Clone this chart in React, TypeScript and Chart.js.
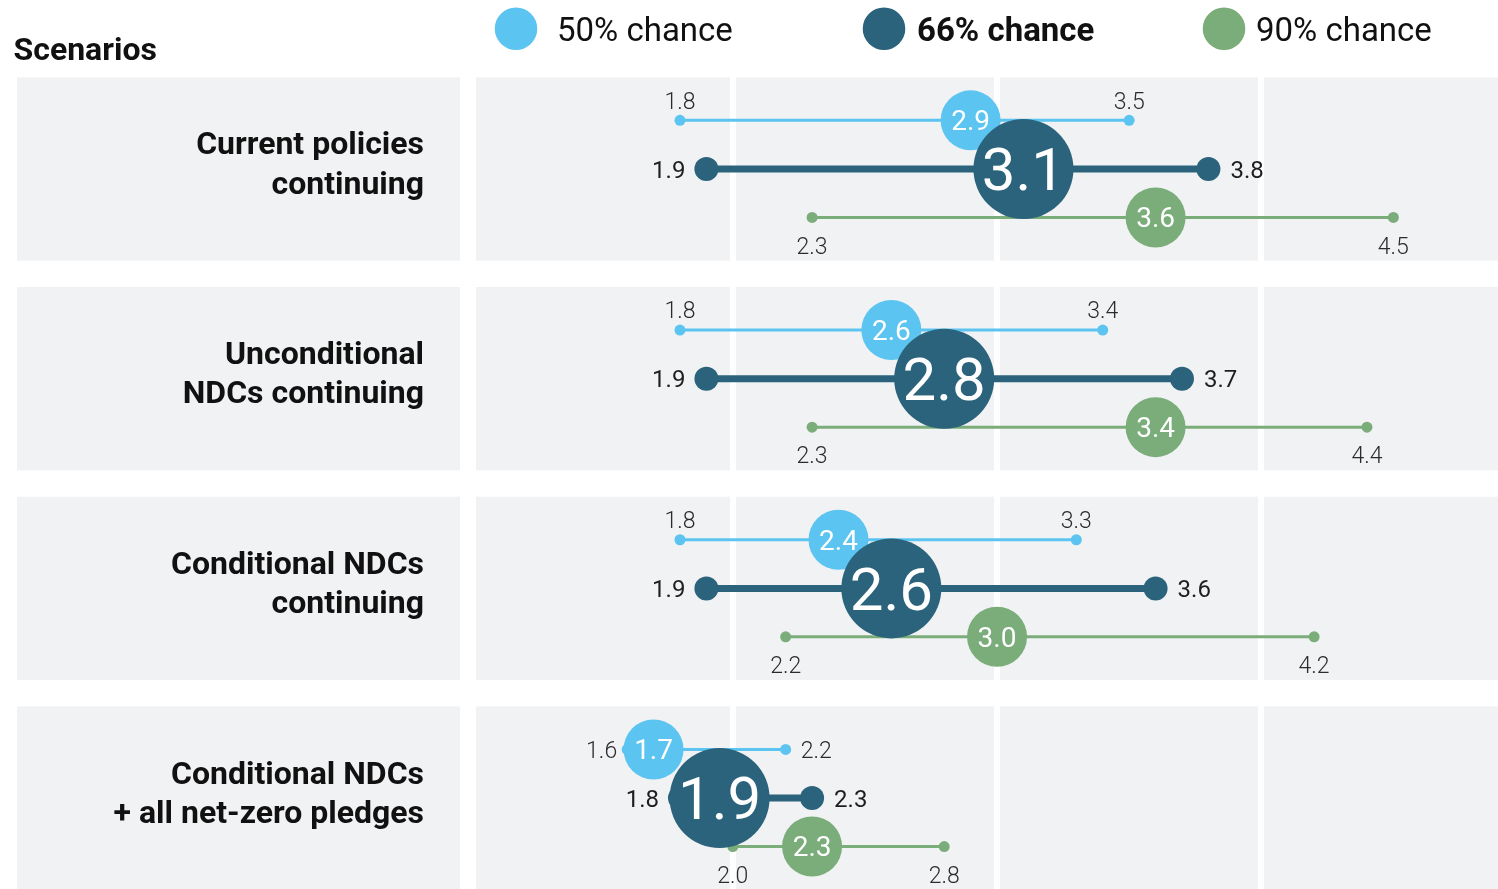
import React, { useEffect, useRef } from "react";
import { Chart, registerables } from "chart.js";

Chart.register(...registerables);

// ---------- data ----------
const scenarios: string[][] = [
  ["Current policies", "continuing"],
  ["Unconditional", "NDCs continuing"],
  ["Conditional NDCs", "continuing"],
  ["Conditional NDCs", "+ all net-zero pledges"],
];
const seriesNames = ["50% chance", "66% chance", "90% chance"];

const low50 = [1.8, 1.8, 1.8, 1.6];
const mid50 = [2.9, 2.6, 2.4, 1.7];
const high50 = [3.5, 3.4, 3.3, 2.2];
const mid50Labels = ["2.9", "2.6", "2.4", "1.7"];

const low66 = [1.9, 1.9, 1.9, 1.8];
const mid66 = [3.1, 2.8, 2.6, 1.95];
const high66 = [3.8, 3.7, 3.6, 2.3];
const mid66Labels = ["3.1", "2.8", "2.6", "1.9"];

const low90 = [2.3, 2.3, 2.2, 2.0];
const mid90 = [3.6, 3.6, 3.0, 2.3];
const high90 = [4.5, 4.4, 4.2, 2.8];
const mid90Labels = ["3.6", "3.4", "3.0", "2.3"];

const gridValues = [2, 3, 4];

// ---------- styles ----------
const COLORS = ["#5CC4F0", "#2A637B", "#7BAD7A"];
const PANEL = "#F1F2F4";
const BAND_HALF = 0.4373;
const FONT = "Roboto";

type Series = {
  low: number[];
  mid: number[];
  high: number[];
  midLabels: string[];
  color: string;
  offset: number;
  lineWidth: number;
  endRadius: number;
  bubbleRadius: number;
  bubbleOrder: number;
  midSize: number;
  midWeight: string;
  endSize: number;
  endWeight: string;
  endColor: string;
  placements: string[];
  sideLeft: number;
  sideRight: number;
};

const SERIES: Series[] = [
  {
    low: low50, mid: mid50, high: high50, midLabels: mid50Labels,
    color: COLORS[0], offset: -0.232, lineWidth: 3, endRadius: 5.5,
    bubbleRadius: 30, bubbleOrder: 2, midSize: 28, midWeight: "400",
    endSize: 23, endWeight: "300", endColor: "#2b2b2b",
    placements: ["above", "above", "above", "side"], sideLeft: 10, sideRight: 15,
  },
  {
    low: low66, mid: mid66, high: high66, midLabels: mid66Labels,
    color: COLORS[1], offset: 0, lineWidth: 7, endRadius: 12,
    bubbleRadius: 50, bubbleOrder: 0, midSize: 60, midWeight: "400",
    endSize: 24, endWeight: "400", endColor: "#1e1e1e",
    placements: ["side", "side", "side", "side"], sideLeft: 21, sideRight: 22,
  },
  {
    low: low90, mid: mid90, high: high90, midLabels: mid90Labels,
    color: COLORS[2], offset: 0.231, lineWidth: 3, endRadius: 5.5,
    bubbleRadius: 30, bubbleOrder: 1, midSize: 28, midWeight: "400",
    endSize: 23, endWeight: "300", endColor: "#2b2b2b",
    placements: ["below", "below", "below", "below"], sideLeft: 10, sideRight: 15,
  },
];

// ---------- plugins ----------
const panelsPlugin = {
  id: "panels",
  beforeDraw(chart: any) {
    const { ctx, chartArea, scales } = chart;
    const y = scales.y;
    ctx.save();
    ctx.fillStyle = PANEL;
    scenarios.forEach((_, r) => {
      const a = y.getPixelForValue(r - BAND_HALF);
      const b = y.getPixelForValue(r + BAND_HALF);
      const top = Math.min(a, b);
      const h = Math.abs(b - a);
      ctx.fillRect(17, top, 443, h);
      ctx.fillRect(chartArea.left, top, chartArea.right - chartArea.left, h);
    });
    ctx.restore();
  },
};

function drawCentered(ctx: CanvasRenderingContext2D, text: string, x: number, yc: number, size: number, align: CanvasTextAlign) {
  ctx.textAlign = align;
  ctx.textBaseline = "alphabetic";
  ctx.fillText(text, x, yc + 0.355 * size);
}

const labelsPlugin = {
  id: "rangeLabels",
  afterDatasetsDraw(chart: any) {
    const { ctx, scales } = chart;
    const xs = scales.x;
    const ys = scales.y;
    ctx.save();
    SERIES.forEach((s) => {
      ctx.font = `${s.endWeight} ${s.endSize}px ${FONT}`;
      ctx.fillStyle = s.endColor;
      s.low.forEach((lo, r) => {
        const y = ys.getPixelForValue(r + s.offset);
        const xl = xs.getPixelForValue(lo);
        const xh = xs.getPixelForValue(s.high[r]);
        const loT = lo.toFixed(1);
        const hiT = s.high[r].toFixed(1);
        const p = s.placements[r];
        if (p === "above") {
          drawCentered(ctx, loT, xl, y - 20, s.endSize, "center");
          drawCentered(ctx, hiT, xh, y - 20, s.endSize, "center");
        } else if (p === "below") {
          drawCentered(ctx, loT, xl, y + 28, s.endSize, "center");
          drawCentered(ctx, hiT, xh, y + 28, s.endSize, "center");
        } else {
          drawCentered(ctx, loT, xl - s.sideLeft, y, s.endSize, "right");
          drawCentered(ctx, hiT, xh + s.sideRight, y, s.endSize, "left");
        }
      });
    });
    ctx.fillStyle = "#ffffff";
    SERIES.forEach((s) => {
      ctx.font = `${s.midWeight} ${s.midSize}px ${FONT}`;
      s.mid.forEach((m, r) => {
        const x = xs.getPixelForValue(m);
        const y = ys.getPixelForValue(r + s.offset);
        drawCentered(ctx, s.midLabels[r], x, y, s.midSize, "center");
      });
    });
    ctx.restore();
  },
};

const LEGEND_CIRCLE_X = [516, 884, 1224];
const LEGEND_TEXT_X = [557, 917, 1256];
const LEGEND_WEIGHT = ["400", "700", "400"];

const headerPlugin = {
  id: "header",
  afterDraw(chart: any) {
    const { ctx } = chart;
    ctx.save();
    ctx.fillStyle = "#111111";
    ctx.textBaseline = "alphabetic";
    ctx.textAlign = "left";
    ctx.font = `700 32px ${FONT}`;
    ctx.fillText("Scenarios", 13.5, 60);
    seriesNames.forEach((name, i) => {
      ctx.fillStyle = COLORS[i];
      ctx.beginPath();
      ctx.arc(LEGEND_CIRCLE_X[i], 28.7, 21.3, 0, Math.PI * 2);
      ctx.fill();
      ctx.fillStyle = "#111111";
      ctx.font = `${LEGEND_WEIGHT[i]} 33px ${FONT}`;
      ctx.fillText(name, LEGEND_TEXT_X[i], 41);
    });
    ctx.restore();
  },
};

export default function App() {
  const ref = useRef<HTMLCanvasElement | null>(null);

  useEffect(() => {
    if (!ref.current) return;

    const lineSets = SERIES.flatMap((s, si) =>
      s.low.map((lo, r) => ({
        type: "line",
        label: `${seriesNames[si]} range ${r + 1}`,
        data: [
          { x: lo, y: r + s.offset },
          { x: s.high[r], y: r + s.offset },
        ],
        borderColor: s.color,
        backgroundColor: s.color,
        borderWidth: s.lineWidth,
        pointRadius: s.endRadius,
        pointHoverRadius: s.endRadius,
        pointBackgroundColor: s.color,
        pointBorderWidth: 0,
        fill: false,
        tension: 0,
        clip: false,
        order: si === 1 ? 3 : 4,
      }))
    );

    const bubbleSets = SERIES.map((s, si) => ({
      type: "bubble",
      label: seriesNames[si],
      data: s.mid.map((m, r) => ({ x: m, y: r + s.offset, r: s.bubbleRadius })),
      backgroundColor: s.color,
      borderWidth: 0,
      hoverBorderWidth: 0,
      clip: false,
      order: s.bubbleOrder,
    }));

    const chart = new Chart(ref.current, {
      type: "scatter",
      data: { datasets: [...lineSets, ...bubbleSets] as any },
      plugins: [panelsPlugin, labelsPlugin, headerPlugin],
      options: {
        animation: false,
        responsive: false,
        devicePixelRatio: 1,
        events: [],
        layout: { padding: { top: 60, left: 0, right: 0, bottom: 0 }, autoPadding: false },
        plugins: { legend: { display: false }, tooltip: { enabled: false } },
        scales: {
          x: {
            type: "linear",
            position: "bottom",
            min: 1.028,
            max: 4.896,
            afterBuildTicks: (scale: any) => {
              scale.ticks = gridValues.map((v) => ({ value: v }));
            },
            afterFit: (scale: any) => {
              scale.height = 0;
              scale.paddingLeft = 0;
              scale.paddingRight = 0;
              scale.paddingTop = 0;
              scale.paddingBottom = 0;
            },
            ticks: { display: false },
            grid: { color: "#ffffff", lineWidth: 6, drawTicks: false },
            border: { display: false },
          },
          y: {
            type: "linear",
            position: "left",
            reverse: true,
            min: -0.5198,
            max: 3.4335,
            afterBuildTicks: (scale: any) => {
              scale.ticks = scenarios.map((_, i) => ({ value: i }));
            },
            afterFit: (scale: any) => {
              scale.width = 476;
              scale.paddingTop = 0;
              scale.paddingBottom = 0;
              scale.paddingLeft = 0;
              scale.paddingRight = 0;
            },
            ticks: {
              autoSkip: false,
              padding: 52,
              labelOffset: -3,
              color: "#111111",
              font: { family: FONT, size: 32, weight: "bold", lineHeight: 1.22 },
              callback: (v: any) => scenarios[Math.round(Number(v))] ?? "",
            },
            grid: { display: false, drawTicks: false },
            border: { display: false },
          },
        },
      } as any,
    });

    return () => chart.destroy();
  }, []);

  return (
    <div style={{ position: "absolute", left: 0, top: 0, width: 1498, height: 889, background: "#ffffff" }}>
      <canvas ref={ref} width={1498} height={889} style={{ display: "block" }} />
    </div>
  );
}
